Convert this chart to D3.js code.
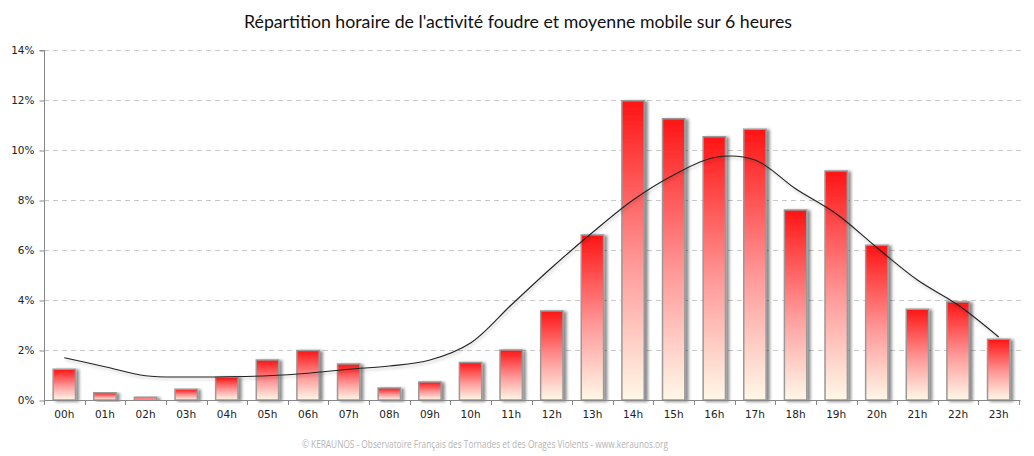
<!DOCTYPE html>
<html>
<head>
<meta charset="utf-8">
<script src="https://cdn.jsdelivr.net/npm/d3@7"></script>
<style>
  body { margin: 0; background: #fff; }
  svg { display: block; }
</style>
</head>
<body>
<div id="chart"></div>
<script>
// hours, share of strikes per hour (%), 6h moving average (%)
const hours = ["00h","01h","02h","03h","04h","05h","06h","07h","08h","09h","10h","11h",
               "12h","13h","14h","15h","16h","17h","18h","19h","20h","21h","22h","23h"];
const activity = [1.23, 0.29, 0.11, 0.43, 0.91, 1.6, 1.98, 1.44, 0.48, 0.72, 1.5, 2.0,
                  3.56, 6.6, 11.97, 11.25, 10.53, 10.83, 7.6, 9.16, 6.19, 3.63, 3.92, 2.43];
const movingAvg = [1.69, 1.33, 0.97, 0.92, 0.93, 0.97, 1.07, 1.23, 1.36, 1.6, 2.28, 3.8,
                   5.3, 6.7, 8.0, 9.0, 9.7, 9.6, 8.45, 7.45, 6.1, 4.8, 3.8, 2.52];
const yTicks = [0, 2, 4, 6, 8, 10, 12, 14];

const W = 1034, H = 456;
const margin = {top: 50, right: 15, bottom: 56, left: 44};
const width = W - margin.left - margin.right,
      height = H - margin.top - margin.bottom;

const svg = d3.select("#chart").append("svg")
    .attr("width", W)
    .attr("height", H);

const defs = svg.append("defs");

const grad = defs.append("linearGradient")
    .attr("id", "barGrad")
    .attr("x1", 0).attr("y1", 0).attr("x2", 0).attr("y2", 1);
grad.append("stop").attr("offset", "0%").attr("stop-color", "#ff1414");
grad.append("stop").attr("offset", "55%").attr("stop-color", "#ff9a9a");
grad.append("stop").attr("offset", "100%").attr("stop-color", "#fff8e8");

const shadow = defs.append("filter")
    .attr("id", "shadow")
    .attr("x", "-20%").attr("y", "-10%").attr("width", "160%").attr("height", "130%");
shadow.append("feDropShadow")
    .attr("dx", 3).attr("dy", 1)
    .attr("stdDeviation", 1.6)
    .attr("flood-color", "#000")
    .attr("flood-opacity", 0.45);

const lineShadow = defs.append("filter")
    .attr("id", "lineShadow")
    .attr("x", "-5%").attr("y", "-20%").attr("width", "110%").attr("height", "140%");
lineShadow.append("feDropShadow")
    .attr("dx", 1).attr("dy", 2)
    .attr("stdDeviation", 1.5)
    .attr("flood-color", "#000")
    .attr("flood-opacity", 0.25);

// Title
svg.append("text")
    .attr("x", 518)
    .attr("y", 28)
    .attr("text-anchor", "middle")
    .attr("textLength", 548)
    .attr("lengthAdjust", "spacingAndGlyphs")
    .style("font-family", "Lato, 'Open Sans', sans-serif")
    .style("font-size", "17px")
    .style("fill", "#111")
    .text("Répartition horaire de l'activité foudre et moyenne mobile sur 6 heures");

const g = svg.append("g")
    .attr("transform", `translate(${margin.left},${margin.top})`);

// Scales
const x = d3.scaleBand()
    .domain(hours)
    .range([0, width])
    .paddingInner(0.45)
    .paddingOuter(0.225);

const xb = d3.scaleBand().domain(hours).range([0, width]);

const y = d3.scaleLinear()
    .domain([0, 14])
    .range([height, 0]);

// Gridlines
g.append("g")
    .selectAll("line")
    .data(yTicks.slice(1))
    .join("line")
    .attr("x1", 0)
    .attr("x2", width + 2)
    .attr("y1", d => y(d) + 0.5)
    .attr("y2", d => y(d) + 0.5)
    .attr("stroke", "#c8c8c8")
    .attr("stroke-dasharray", "5,4");

// Bars
g.append("g")
    .selectAll("rect")
    .data(activity)
    .join("rect")
    .attr("x", (d, i) => x(hours[i]))
    .attr("y", d => y(d))
    .attr("width", x.bandwidth())
    .attr("height", d => height - y(d))
    .attr("fill", "url(#barGrad)")
    .attr("stroke", "#999")
    .attr("stroke-width", 1.5)
    .attr("filter", "url(#shadow)");

// Moving average line
const line = d3.line()
    .x((d, i) => xb(hours[i]) + xb.bandwidth() / 2)
    .y(d => y(d))
    .curve(d3.curveCatmullRom.alpha(0.5));

g.append("path")
    .datum(movingAvg)
    .attr("d", line)
    .attr("fill", "none")
    .attr("stroke", "#222")
    .attr("stroke-width", 1.1)
    .attr("filter", "url(#lineShadow)");

// Axes
const yAxis = g.append("g")
    .attr("transform", "translate(0.5,0.5)")
    .call(d3.axisLeft(y).tickValues(yTicks).tickSize(5).tickPadding(5).tickFormat(d => d + "%"));
yAxis.select(".domain").attr("stroke", "#888").attr("d", `M-5,0H0V${height}`);
yAxis.selectAll(".tick line").attr("stroke", "#888");
yAxis.selectAll(".tick text")
    .style("font-family", "Verdana, 'DejaVu Sans', sans-serif")
    .style("font-size", "10.5px")
    .style("fill", "#222");

const xAxis = g.append("g")
    .attr("transform", `translate(0,${height + 0.5})`)
    .call(d3.axisBottom(xb).tickSize(0).tickPadding(10));
xAxis.select(".domain").attr("stroke", "#888").attr("d", `M0,0H${width + 1.5}`);
xAxis.selectAll(".tick text")
    .style("font-family", "Verdana, 'DejaVu Sans', sans-serif")
    .style("font-size", "10.5px")
    .style("fill", "#222");

// band boundary ticks
g.append("g")
    .selectAll("line")
    .data(hours.concat(["end"]))
    .join("line")
    .attr("x1", (d, i) => Math.round(i * xb.step()) + 0.5)
    .attr("x2", (d, i) => Math.round(i * xb.step()) + 0.5)
    .attr("y1", height)
    .attr("y2", height + 5)
    .attr("stroke", "#888");

// Footer
svg.append("text")
    .attr("x", 485)
    .attr("y", 448)
    .attr("text-anchor", "middle")
    .attr("textLength", 366)
    .attr("lengthAdjust", "spacingAndGlyphs")
    .style("font-family", "'Open Sans', sans-serif")
    .style("font-size", "10px")
    .style("fill", "#b4b4b4")
    .text("© KERAUNOS - Observatoire Français des Tornades et des Orages Violents - www.keraunos.org");
</script>
</body>
</html>
